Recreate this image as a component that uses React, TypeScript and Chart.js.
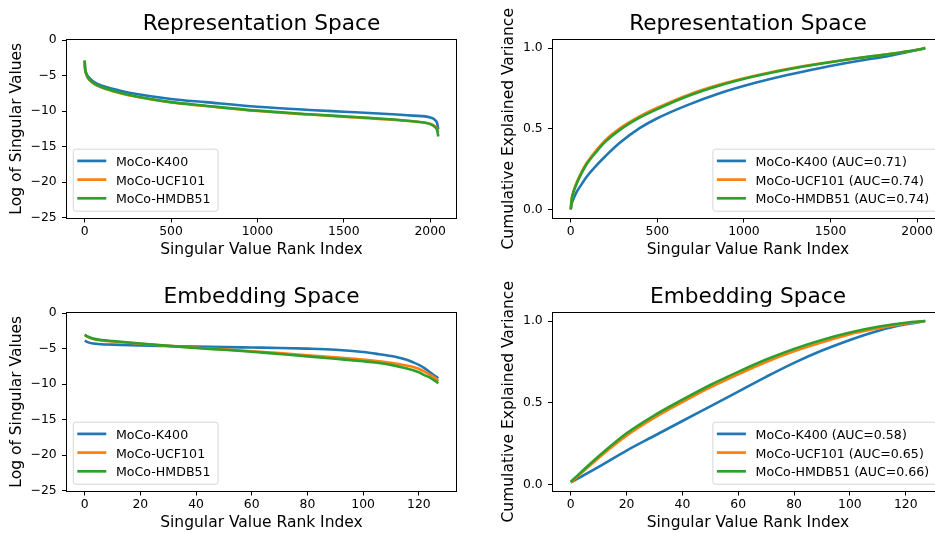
import React, { useEffect, useRef } from "react";
import { Chart, registerables } from "chart.js";

Chart.register(...registerables);
Chart.defaults.font.family = "DejaVu Sans";
Chart.defaults.color = "#000";

// ---------- data ----------
const seriesLabels = ["MoCo-K400", "MoCo-UCF101", "MoCo-HMDB51"];
const seriesColors = ["#1f77b4", "#ff7f0e", "#2ca02c"];

// Representation space: log of singular values (2048 dims)
const repLogX = [0, 1, 3, 8, 20, 50, 100, 200, 300, 500, 700, 1000, 1300, 1500, 1700, 1900, 2000, 2030, 2040, 2047];
const repLogK400 = [-2.9, -3.5, -4.1, -4.6, -5.15, -5.85, -6.45, -7.1, -7.6, -8.3, -8.75, -9.4, -9.85, -10.1, -10.35, -10.65, -10.9, -11.3, -11.7, -12.6];
const repLogUCF = [-2.9, -3.5, -4.15, -4.75, -5.4, -6.1, -6.7, -7.45, -8.0, -8.8, -9.3, -10.0, -10.5, -10.8, -11.1, -11.45, -11.8, -12.2, -12.5, -13.0];
const repLogHMDB = [-2.9, -3.5, -4.15, -4.7, -5.35, -6.05, -6.65, -7.4, -7.95, -8.75, -9.25, -9.95, -10.45, -10.75, -11.05, -11.45, -11.85, -12.3, -12.7, -13.6];

// Representation space: cumulative explained variance
const repCumX = [0, 5, 10, 30, 50, 90, 150, 200, 280, 400, 500, 670, 860, 1050, 1250, 1450, 1650, 1850, 2000, 2047];
const repCumK400 = [0, 0.03, 0.05, 0.1, 0.135, 0.2, 0.275, 0.33, 0.41, 0.505, 0.565, 0.645, 0.72, 0.78, 0.833, 0.878, 0.918, 0.955, 0.988, 1.0];
const repCumUCF = [0, 0.06, 0.09, 0.155, 0.205, 0.285, 0.37, 0.43, 0.5, 0.578, 0.63, 0.707, 0.774, 0.826, 0.87, 0.906, 0.937, 0.965, 0.99, 1.0];
const repCumHMDB = [0, 0.057, 0.086, 0.148, 0.197, 0.277, 0.36, 0.42, 0.49, 0.57, 0.622, 0.7, 0.768, 0.822, 0.868, 0.905, 0.937, 0.965, 0.99, 1.0];
const repCumAUC = ["0.71", "0.74", "0.74"];

// Embedding space: log of singular values (128 dims)
const embLogX = [0, 1, 3, 6, 10, 20, 30, 40, 50, 60, 70, 80, 90, 100, 105, 110, 115, 118, 120, 122, 124, 126, 127];
const embLogK400 = [-3.9, -4.1, -4.3, -4.4, -4.45, -4.57, -4.65, -4.73, -4.8, -4.86, -4.92, -5.02, -5.18, -5.5, -5.75, -6.05, -6.5, -6.95, -7.3, -7.75, -8.35, -8.9, -9.2];
const embLogUCF = [-3.1, -3.35, -3.65, -3.85, -4.0, -4.33, -4.62, -4.88, -5.12, -5.38, -5.65, -5.95, -6.25, -6.55, -6.75, -7.0, -7.35, -7.6, -7.85, -8.25, -8.7, -9.2, -9.6];
const embLogHMDB = [-3.05, -3.3, -3.6, -3.8, -3.95, -4.3, -4.62, -4.92, -5.18, -5.45, -5.78, -6.1, -6.45, -6.8, -7.0, -7.3, -7.75, -8.05, -8.35, -8.75, -9.1, -9.6, -9.9];

// Embedding space: cumulative explained variance
const embCumX = [0, 10, 20, 30, 40, 50, 60, 70, 80, 90, 100, 110, 120, 127];
const embCumK400 = [0.015, 0.11, 0.21, 0.3, 0.39, 0.48, 0.57, 0.66, 0.745, 0.82, 0.885, 0.94, 0.98, 1.0];
const embCumUCF = [0.015, 0.165, 0.3, 0.41, 0.505, 0.595, 0.675, 0.75, 0.815, 0.87, 0.92, 0.955, 0.985, 1.0];
const embCumHMDB = [0.02, 0.175, 0.315, 0.425, 0.52, 0.61, 0.69, 0.765, 0.83, 0.885, 0.93, 0.965, 0.99, 1.0];
const embCumAUC = ["0.58", "0.65", "0.66"];

// ticks
const repXTicks = [0, 500, 1000, 1500, 2000];
const embXTicks = [0, 20, 40, 60, 80, 100, 120];
const logYTicks = [0, -5, -10, -15, -20, -25];
const cumYTicks = [0, 0.5, 1.0];

// ---------- helpers ----------
const FONT = "DejaVu Sans";

function fmtLog(v: number) {
  return v === 0 ? "0" : (v < 0 ? "\u2212" : "") + Math.abs(v);
}
function fmtCum(v: number) {
  return v.toFixed(1);
}

function framePlugin() {
  return {
    id: "frame",
    afterDatasetsDraw(chart: any) {
      const { ctx, chartArea: a } = chart;
      ctx.save();
      ctx.strokeStyle = "#000";
      ctx.lineWidth = 1;
      const l = Math.round(a.left) - 0.5;
      const t = Math.round(a.top) - 0.5;
      const r = Math.round(a.right) + 0.5;
      const b = Math.round(a.bottom) + 0.5;
      ctx.strokeRect(l, t, r - l, b - t);
      ctx.restore();
    },
  };
}

function legendPlugin(loc: string, labels: string[]) {
  return {
    id: "mplLegend",
    afterDraw(chart: any) {
      const { ctx, chartArea: a } = chart;
      const fs = 12.6;
      ctx.save();
      ctx.font = `${fs}px "${FONT}"`;
      const tw = Math.max(...labels.map((l) => ctx.measureText(l).width));
      const w = 42.7 + tw + 7.5;
      const h = 62;
      const pad = 6.3;
      const x0 = loc === "lower left" ? a.left + pad : a.right - pad - w;
      const y0 = a.bottom - pad - h;
      const rr = 2.5;
      ctx.beginPath();
      ctx.moveTo(x0 + rr, y0);
      ctx.lineTo(x0 + w - rr, y0);
      ctx.arcTo(x0 + w, y0, x0 + w, y0 + rr, rr);
      ctx.lineTo(x0 + w, y0 + h - rr);
      ctx.arcTo(x0 + w, y0 + h, x0 + w - rr, y0 + h, rr);
      ctx.lineTo(x0 + rr, y0 + h);
      ctx.arcTo(x0, y0 + h, x0, y0 + h - rr, rr);
      ctx.lineTo(x0, y0 + rr);
      ctx.arcTo(x0, y0, x0 + rr, y0, rr);
      ctx.closePath();
      ctx.fillStyle = "rgba(255,255,255,0.8)";
      ctx.fill();
      ctx.strokeStyle = "rgba(204,204,204,0.8)";
      ctx.lineWidth = 1;
      ctx.stroke();
      labels.forEach((l, i) => {
        const cy = y0 + 11.7 + i * 18.7;
        ctx.strokeStyle = seriesColors[i];
        ctx.lineWidth = 2.7;
        ctx.lineCap = "butt";
        ctx.beginPath();
        ctx.moveTo(x0 + 4, cy);
        ctx.lineTo(x0 + 33, cy);
        ctx.stroke();
        ctx.fillStyle = "#000";
        ctx.textBaseline = "alphabetic";
        ctx.textAlign = "left";
        ctx.fillText(l, x0 + 42.7, cy + 5);
      });
      ctx.restore();
    },
  };
}

type PanelSpec = {
  left: number;
  top: number;
  width: number;
  height: number;
  yWidth: number;
  padRight: number;
  yTitlePad: number;
  title: string;
  yTitle: string;
  xs: number[];
  ys: number[][];
  legendLabels: string[];
  legendLoc: string;
  xMin: number;
  xMax: number;
  yMin: number;
  yMax: number;
  xTicks: number[];
  yTicks: number[];
  yFmt: (v: number) => string;
};

function buildConfig(p: PanelSpec): any {
  return {
    type: "line",
    data: {
      datasets: p.ys.map((ys, i) => ({
        label: seriesLabels[i],
        data: p.xs.map((x, j) => ({ x, y: ys[j] })),
        borderColor: seriesColors[i],
        backgroundColor: seriesColors[i],
        borderWidth: 2.6,
        pointRadius: 0,
        fill: false,
        cubicInterpolationMode: "monotone",
        order: 3 - i,
      })),
    },
    options: {
      responsive: false,
      animation: false,
      events: [],
      layout: { padding: { top: 0, left: 0, right: p.padRight, bottom: 0 } },
      plugins: {
        legend: { display: false },
        tooltip: { enabled: false },
        title: {
          display: true,
          text: p.title,
          fullSize: false,
          color: "#000",
          font: { family: FONT, size: 21.7, weight: "normal" },
          padding: { top: 11.5, bottom: 2.5 },
        },
      },
      scales: {
        x: {
          type: "linear",
          min: p.xMin,
          max: p.xMax,
          afterBuildTicks: (s: any) => {
            s.ticks = p.xTicks.map((v) => ({ value: v }));
          },
          afterFit: (s: any) => {
            s.height = 42.5;
          },
          ticks: {
            color: "#000",
            font: { family: FONT, size: 12.4 },
            padding: 2,
            maxRotation: 0,
            autoSkip: false,
            callback: (v: number) => String(v),
          },
          grid: {
            drawOnChartArea: false,
            drawTicks: true,
            tickLength: 5,
            color: "#000",
            lineWidth: 1,
          },
          border: { display: false },
          title: {
            display: true,
            text: "Singular Value Rank Index",
            color: "#000",
            font: { family: FONT, size: 15.5 },
            padding: { top: 0, bottom: 1.1 },
          },
        },
        y: {
          type: "linear",
          min: p.yMin,
          max: p.yMax,
          afterBuildTicks: (s: any) => {
            s.ticks = p.yTicks.map((v) => ({ value: v }));
          },
          afterFit: (s: any) => {
            s.width = p.yWidth;
          },
          ticks: {
            color: "#000",
            font: { family: FONT, size: 12.4 },
            padding: 5.3,
            autoSkip: false,
            callback: (v: number) => p.yFmt(v),
          },
          grid: {
            drawOnChartArea: false,
            drawTicks: true,
            tickLength: 5,
            color: "#000",
            lineWidth: 1,
          },
          border: { display: false },
          title: {
            display: true,
            text: p.yTitle,
            color: "#000",
            font: { family: FONT, size: 15.5 },
            padding: { top: p.yTitlePad, bottom: 0 },
          },
        },
      },
    },
    plugins: [framePlugin(), legendPlugin(p.legendLoc, p.legendLabels)],
  };
}

function Panel({ spec }: { spec: PanelSpec }) {
  const ref = useRef<HTMLCanvasElement | null>(null);
  useEffect(() => {
    if (!ref.current) return;
    const chart = new Chart(ref.current, buildConfig(spec));
    return () => chart.destroy();
  }, [spec]);
  return (
    <canvas
      ref={ref}
      width={spec.width}
      height={spec.height}
      style={{
        position: "absolute",
        left: spec.left,
        top: spec.top,
        width: spec.width,
        height: spec.height,
      }}
    />
  );
}

const repRange = { xMin: -102.35, xMax: 2149.35 };
const embRange = { xMin: -6.35, xMax: 133.35 };

const leftCommon = { width: 470, height: 260, yWidth: 67, padRight: 14, yTitlePad: 7.7, legendLoc: "lower left" };
const rightCommon = { width: 490, height: 260, yWidth: 88, padRight: 12, yTitlePad: 34.2, legendLoc: "lower right" };

const panels: PanelSpec[] = [
  {
    ...leftCommon,
    left: 0,
    top: 0,
    title: "Representation Space",
    yTitle: "Log of Singular Values",
    xs: repLogX,
    ys: [repLogK400, repLogUCF, repLogHMDB],
    legendLabels: seriesLabels,
    ...repRange,
    yMin: -25,
    yMax: 0,
    xTicks: repXTicks,
    yTicks: logYTicks,
    yFmt: fmtLog,
  },
  {
    ...rightCommon,
    left: 465,
    top: 0,
    title: "Representation Space",
    yTitle: "Cumulative Explained Variance",
    xs: repCumX,
    ys: [repCumK400, repCumUCF, repCumHMDB],
    legendLabels: seriesLabels.map((l, i) => `${l} (AUC=${repCumAUC[i]})`),
    ...repRange,
    yMin: -0.05,
    yMax: 1.05,
    xTicks: repXTicks,
    yTicks: cumYTicks,
    yFmt: fmtCum,
  },
  {
    ...leftCommon,
    left: 0,
    top: 273,
    title: "Embedding Space",
    yTitle: "Log of Singular Values",
    xs: embLogX,
    ys: [embLogK400, embLogUCF, embLogHMDB],
    legendLabels: seriesLabels,
    ...embRange,
    yMin: -25,
    yMax: 0,
    xTicks: embXTicks,
    yTicks: logYTicks,
    yFmt: fmtLog,
  },
  {
    ...rightCommon,
    left: 465,
    top: 273,
    title: "Embedding Space",
    yTitle: "Cumulative Explained Variance",
    xs: embCumX,
    ys: [embCumK400, embCumUCF, embCumHMDB],
    legendLabels: seriesLabels.map((l, i) => `${l} (AUC=${embCumAUC[i]})`),
    ...embRange,
    yMin: -0.034,
    yMax: 1.049,
    xTicks: embXTicks,
    yTicks: cumYTicks,
    yFmt: fmtCum,
  },
];

export default function App() {
  return (
    <div
      style={{
        position: "fixed",
        left: 0,
        top: 0,
        width: 935,
        height: 533,
        overflow: "hidden",
        background: "#fff",
      }}
    >
      {panels.map((p, i) => (
        <Panel key={i} spec={p} />
      ))}
    </div>
  );
}
